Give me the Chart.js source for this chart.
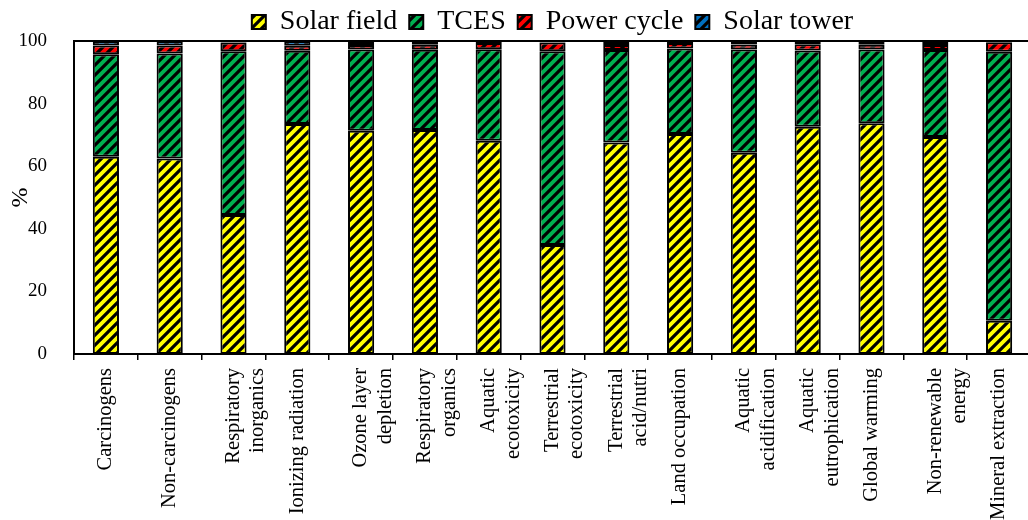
<!DOCTYPE html>
<html>
<head>
<meta charset="utf-8">
<script src="https://cdn.jsdelivr.net/npm/chart.js@4/dist/chart.umd.min.js"></script>
<style>
  html, body { margin: 0; padding: 0; background: #fff; overflow: hidden; }
  #wrap { width: 1028px; height: 520px; overflow: hidden; }
  #wrap div { width: 1031px; height: 520px; }
</style>
</head>
<body>
<div id="wrap"><div><canvas id="myChart"></canvas></div></div>
<script>
const categories = [
  "Carcinogens",
  "Non-carcinogens",
  ["Respiratory", "inorganics"],
  "Ionizing radiation",
  ["Ozone layer", "depletion"],
  ["Respiratory", "organics"],
  ["Aquatic", "ecotoxicity"],
  ["Terrestrial", "ecotoxicity"],
  ["Terrestrial", "acid/nutri"],
  "Land occupation",
  ["Aquatic", "acidification"],
  ["Aquatic", "eutrophication"],
  "Global warming",
  ["Non-renewable", "energy"],
  "Mineral extraction",
];

const solarField = [63.0, 62.5, 44.4, 73.5, 71.3, 71.6, 68.1, 34.8, 67.6, 70.3, 64.3, 72.6, 73.7, 69.3, 10.6];
const tces       = [32.8, 33.5, 52.3, 23.4, 26.0, 25.6, 29.3, 61.9, 29.5, 27.3, 33.0, 24.4, 23.6, 27.8, 86.0];
const powerCycle = [2.8, 2.6, 2.8, 1.6, 1.4, 1.6, 2.0, 2.8, 1.6, 1.8, 1.6, 2.0, 1.5, 1.6, 3.0];
const solarTower = [1.4, 1.4, 0.5, 1.5, 1.3, 1.2, 0.6, 0.5, 1.3, 0.6, 1.1, 1.0, 1.2, 1.3, 0.4];

const yTicks = [0, 20, 40, 60, 80, 100];

const serif = "'Liberation Serif', 'Times New Roman', serif";

// diagonal black hatching over a solid fill
function hatch(color) {
  const size = 10;
  const c = document.createElement("canvas");
  c.width = size;
  c.height = size;
  const g = c.getContext("2d");
  g.fillStyle = color;
  g.fillRect(0, 0, size, size);
  g.strokeStyle = "#000";
  g.lineWidth = 3.2;
  g.beginPath();
  g.moveTo(-2, size + 2); g.lineTo(size + 2, -2);
  g.moveTo(-3, 3); g.lineTo(3, -3);
  g.moveTo(size - 3, size + 3); g.lineTo(size + 3, size - 3);
  g.stroke();
  return g.createPattern(c, "repeat");
}

function series(label, data, color) {
  return {
    label: label,
    data: data,
    backgroundColor: hatch(color),
    borderColor: "#000",
    borderWidth: 2,
    borderSkipped: false,
    categoryPercentage: 1,
    barPercentage: 0.41,
  };
}

// frame around the plot area
const frame = {
  id: "frame",
  afterDatasetsDraw(chart) {
    const a = chart.chartArea;
    const ctx = chart.ctx;
    ctx.save();
    ctx.strokeStyle = "#000";
    ctx.lineWidth = 2;
    ctx.strokeRect(a.left, a.top, a.right - a.left, a.bottom - a.top);
    ctx.restore();
  },
};

// keep the legend row short so the plot starts right under it
const legendHeight = {
  id: "legendHeight",
  beforeLayout(chart) {
    const legend = chart.legend;
    if (!legend || legend._patched) return;
    const fit = legend.fit;
    legend.fit = function () {
      fit.call(this);
      this.height = 45;
    };
    legend._patched = true;
  },
};

Chart.register(frame, legendHeight);

const ctx = document.getElementById("myChart").getContext("2d");
new Chart(ctx, {
  type: "bar",
  data: {
    labels: categories,
    datasets: [
      series("Solar field", solarField, "#FFFF00"),
      series("TCES", tces, "#00B050"),
      series("Power cycle", powerCycle, "#FF0000"),
      series("Solar tower", solarTower, "#0070C0"),
    ],
  },
  options: {
    responsive: true,
    maintainAspectRatio: false,
    animation: false,
    layout: { padding: { top: -4, left: 0, right: 0, bottom: 0 } },
    plugins: {
      legend: {
        position: "top",
        fullSize: false,
        labels: {
          font: { family: serif, size: 28 },
          color: "#000",
          boxWidth: 14,
          boxHeight: 14,
          padding: 12,
        },
      },
      tooltip: { enabled: false },
    },
    scales: {
      x: {
        stacked: true,
        offset: true,
        afterFit: (scale) => {
          scale.height = 166;
          scale.paddingLeft = 0;
          scale.paddingRight = 0;
        },
        border: { color: "#000", width: 2 },
        grid: {
          offset: true,
          drawOnChartArea: false,
          color: "#000",
          lineWidth: 1.5,
          tickLength: 6,
        },
        ticks: {
          font: { family: serif, size: 20.5, lineHeight: 1.2 },
          color: "#000",
          maxRotation: 90,
          minRotation: 90,
          autoSkip: false,
          padding: 8,
        },
      },
      y: {
        stacked: true,
        min: 0,
        max: 100,
        afterBuildTicks: (axis) => {
          axis.ticks = yTicks.map((v) => ({ value: v }));
        },
        afterFit: (scale) => {
          scale.width = 74;
        },
        border: { color: "#000", width: 2 },
        grid: { display: false },
        ticks: {
          font: { family: serif, size: 19 },
          color: "#000",
          padding: 19,
        },
        title: {
          display: true,
          text: "%",
          font: { family: serif, size: 24 },
          color: "#000",
          padding: 6,
        },
      },
    },
  },
});
</script>
</body>
</html>
